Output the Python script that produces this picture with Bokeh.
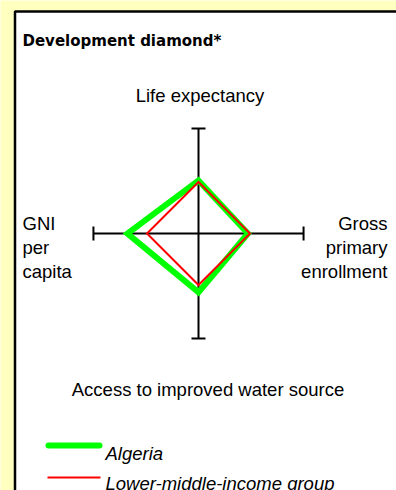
from bokeh.plotting import figure
from bokeh.models import Range1d
from bokeh.core.properties import value
from bokeh.embed import file_html
from bokeh.resources import INLINE

# ---- data ----
axis_labels = ["Life expectancy", "Gross primary enrollment",
               "Access to improved water source", "GNI per capita"]
series_names = ["Algeria", "Lower-middle-income group"]
algeria = [1.03, 0.96, 1.14, 1.38]      # top, right, bottom, left
lmi_group = [1.0, 1.0, 1.0, 1.0]
axis_extent = 2.04

YELLOW = "#FFFFC0"
GREEN = "#00FF00"
RED = "#FF0000"

W, H = 396, 490

# ---- layout helpers (picture pixel -> data) ----
S = 51.5
CX, CY = 198.0, 233.0
def dx(X):
    return (X - CX) / S
def dy(Y):
    return (CY - Y) / S

p = figure(width=W, height=H,
           x_range=Range1d(dx(0), dx(W)), y_range=Range1d(dy(H), dy(0)),
           output_backend="svg", toolbar_location=None, min_border=0,
           background_fill_color=YELLOW, border_fill_color=YELLOW,
           outline_line_color=None)
p.axis.visible = False
p.grid.visible = False

# white panel with black border
p.quad(left=dx(14.5), right=dx(440), top=dy(11), bottom=dy(560),
       fill_color="white", line_color="black", line_width=2.5)

# axes of the diamond
A = axis_extent
c = 7.0 / S
p.segment(x0=[0, -A], y0=[-A, 0], x1=[0, A], y1=[A, 0], line_color="black", line_width=2)
p.segment(x0=[-c, -c], y0=[A, -A], x1=[c, c], y1=[A, -A], line_color="black", line_width=2)
p.segment(x0=[A, -A], y0=[-c, -c], x1=[A, -A], y1=[c, c], line_color="black", line_width=2)

def diamond(v):
    xs = [0, v[1], 0, -v[3]]
    ys = [v[0], 0, -v[2], 0]
    return xs, ys

gx, gy = diamond(algeria)
p.patch(gx, gy, fill_color=None, line_color=GREEN, line_width=6, line_join="miter")
rx, ry = diamond(lmi_group)
p.patch(rx, ry, fill_color=None, line_color=RED, line_width=2, line_join="miter")

FONT = value("Liberation Sans")
FS = "18.5px"

# title
p.text(x=[dx(22)], y=[dy(40)], text=["Development diamond*"],
       text_font=value("DejaVu Sans"), text_font_style="bold", text_font_size="15px",
       text_align="left", text_baseline="alphabetic", text_color="black")

# axis labels
p.text(x=[dx(199.5)], y=[dy(95)], text=[axis_labels[0]], text_font=FONT,
       text_font_size=FS, text_align="center", text_baseline="alphabetic", text_color="black")
p.text(x=[dx(207.5)], y=[dy(389)], text=[axis_labels[2]], text_font=FONT,
       text_font_size=FS, text_align="center", text_baseline="alphabetic", text_color="black")

right_lines = ["Gross", "primary", "enrollment"]
left_lines = ["GNI", "per", "capita"]
base = [223, 247, 271]
p.text(x=[dx(387)] * 3, y=[dy(b) for b in base], text=right_lines, text_font=FONT,
       text_font_size=FS, text_align="right", text_baseline="alphabetic", text_color="black")
p.text(x=[dx(22)] * 3, y=[dy(b) for b in base], text=left_lines, text_font=FONT,
       text_font_size=FS, text_align="left", text_baseline="alphabetic", text_color="black")

# legend
p.line(x=[dx(48), dx(99)], y=[dy(445), dy(445)], line_color=GREEN, line_width=6, line_cap="round")
p.line(x=[dx(47), dx(100)], y=[dy(477), dy(477)], line_color=RED, line_width=2)
p.text(x=[dx(105), dx(105)], y=[dy(453), dy(483)], text=series_names, text_font=FONT,
       text_font_style="italic", text_font_size=FS, text_align="left",
       text_baseline="alphabetic", text_color="black")

open("out.html", "w").write(file_html(p, INLINE))
